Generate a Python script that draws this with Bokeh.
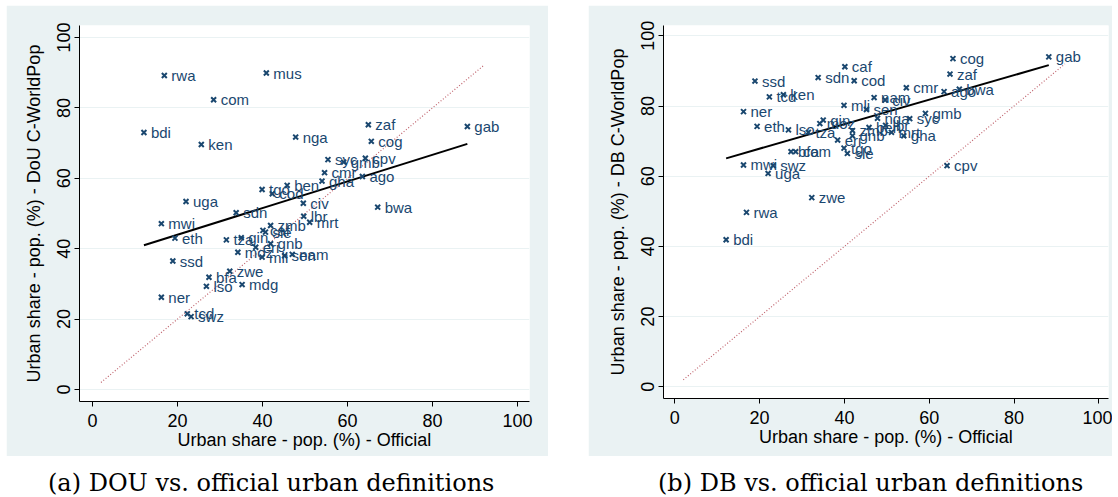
import numpy as np
from bokeh.plotting import figure
from bokeh.models import Range1d, ColumnDataSource, Spacer, Div
from bokeh.layouts import row, column
from bokeh.core.properties import value
from bokeh.embed import file_html
from bokeh.resources import INLINE

nan = float("nan")

countries = ["rwa", "mus", "com", "bdi", "ken", "nga", "zaf", "cog", "gab", "syc",
             "gmb", "cpv", "cmr", "ago", "gha", "tgo", "ben", "cod", "civ", "lbr",
             "mrt", "bwa", "uga", "sdn", "mwi", "eth", "zmb", "caf", "sle", "tza",
             "gin", "gnb", "moz", "eri", "mli", "sen", "nam", "ssd", "zwe", "bfa",
             "lso", "mdg", "ner", "tcd", "swz"]
official = [16.9, 40.9, 28.5, 12.1, 25.6, 47.8, 64.9, 65.6, 88.2, 55.4,
            59.1, 64.2, 54.6, 63.5, 54.0, 39.9, 45.8, 42.3, 49.6, 49.7,
            51.1, 67.1, 22.0, 33.8, 16.2, 19.4, 41.9, 40.1, 40.7, 31.5,
            35.0, 41.9, 34.2, 38.4, 39.9, 45.2, 47.0, 18.9, 32.3, 27.4,
            26.8, 35.2, 16.2, 22.3, 23.2]
dou_worldpop = [89.2, 89.9, 82.3, 73.0, 69.6, 71.7, 75.2, 70.5, 74.7, 65.3,
                64.6, 65.7, 61.6, 60.5, 59.2, 56.8, 58.0, 55.6, 52.9, 49.2,
                47.5, 51.8, 53.4, 50.2, 47.1, 43.0, 46.6, 45.2, 44.7, 42.5,
                43.1, 41.4, 39.0, 40.4, 37.6, 38.0, 38.4, 36.5, 33.6, 31.9,
                29.3, 29.8, 26.2, 21.5, 20.7]
db_worldpop = [49.7, nan, 67.0, 41.9, 83.2, 76.5, 89.1, 93.5, 94.0, 76.4,
               77.9, 63.0, 85.2, 84.1, 71.5, 68.0, 73.9, 87.2, 81.7, 74.5,
               72.5, 84.8, 60.8, 88.1, 63.2, 74.2, 73.0, 91.2, 66.5, 72.5,
               76.0, 71.5, 75.0, 70.3, 80.2, 79.0, 82.4, 87.1, 53.9, 67.0,
               73.2, nan, 78.4, 82.6, 63.0]
diag_line = [2, 92]
axis_ticks = [0, 20, 40, 60, 80, 100]

x_title = "Urban share - pop. (%) - Official"
y_titles = ["Urban share - pop. (%) - DoU C-WorldPop",
            "Urban share - pop. (%) - DB C-WorldPop"]
captions = ["(a) DOU vs. official urban definitions",
            "(b) DB vs. official urban definitions"]

NAVY = "#1a476f"
BG = "#eaf2f3"
FONT = "Liberation Sans"


def panel(yvals, ytitle, width, height, bl, br, bt, bb, xr, yr):
    p = figure(width=width, height=height, output_backend="svg",
               toolbar_location=None, x_range=Range1d(*xr), y_range=Range1d(*yr),
               min_border_left=bl, min_border_right=br,
               min_border_top=bt, min_border_bottom=bb)
    p.border_fill_color = BG
    p.background_fill_color = "white"
    p.outline_line_color = None
    p.xgrid.visible = False
    p.ygrid.grid_line_color = BG
    p.ygrid.grid_line_width = 1.2

    for ax in (p.xaxis, p.yaxis):
        ax.ticker = axis_ticks
        ax.minor_tick_line_color = None
        ax.major_tick_out = 5
        ax.major_tick_in = 0
        ax.axis_line_color = "black"
        ax.major_tick_line_color = "black"
        ax.major_label_text_font = FONT
        ax.major_label_text_font_size = "18px"
        ax.major_label_text_color = "black"
        ax.axis_label_text_font = FONT
        ax.axis_label_text_font_size = "18px"
        ax.axis_label_text_font_style = "normal"
        ax.axis_label_text_color = "black"
    p.xaxis.axis_label = x_title
    p.yaxis.axis_label = ytitle
    p.xaxis.major_label_standoff = 7
    p.xaxis.axis_label_standoff = 0
    p.yaxis.major_label_orientation = "vertical"
    p.yaxis.major_label_standoff = 4
    p.yaxis.axis_label_standoff = 11

    # 45-degree line
    p.line(diag_line, diag_line, line_color="#c0646e", line_width=1.2,
           line_dash="1 2")

    xs = np.array(official, dtype=float)
    ys = np.array(yvals, dtype=float)
    ok = ~np.isnan(ys)
    slope, icpt = np.polyfit(xs[ok], ys[ok], 1)
    fx = np.array([xs[ok].min(), xs[ok].max()])
    p.line(fx, icpt + slope * fx, line_color="black", line_width=2)

    src = ColumnDataSource(dict(x=xs[ok], y=ys[ok],
                                c=[c for c, k in zip(countries, ok) if k]))
    p.scatter("x", "y", source=src, marker="x", size=7, line_width=2,
              color=NAVY)
    p.text("x", "y", text="c", source=src, x_offset=7, text_align="left",
           text_baseline="middle", text_font=value(FONT),
           text_font_size="15px", text_color=NAVY)
    return p


def caption(text, width, height, indent):
    return Div(text=text, width=width, height=height, margin=0,
               styles={"font-family": "'DejaVu Serif', serif",
                       "font-size": "24px",
                       "line-height": "54px",
                       "text-align": "left",
                       "text-indent": f"{indent}px",
                       "white-space": "nowrap",
                       "overflow": "hidden",
                       "color": "black"})


pa = panel(dou_worldpop, y_titles[0], 542, 451, 73, 19, 20, 55,
           (-3.06, 102.82), (-3.41, 103.4))
pb = panel(db_worldpop, y_titles[1], 524, 451, 75, 4, 20, 58,
           (-2.67, 102.28), (-3.33, 102.94))
ca = caption(captions[0], 542, 41, 42)
cb = caption(captions[1], 524, 41, 70)

left = column(Spacer(height=5), pa, ca, spacing=0)
right = column(Spacer(height=5), pb, cb, spacing=0)
layout = row(Spacer(width=6), left, Spacer(width=40), right, spacing=0)

open("out.html", "w").write(file_html(layout, INLINE))
